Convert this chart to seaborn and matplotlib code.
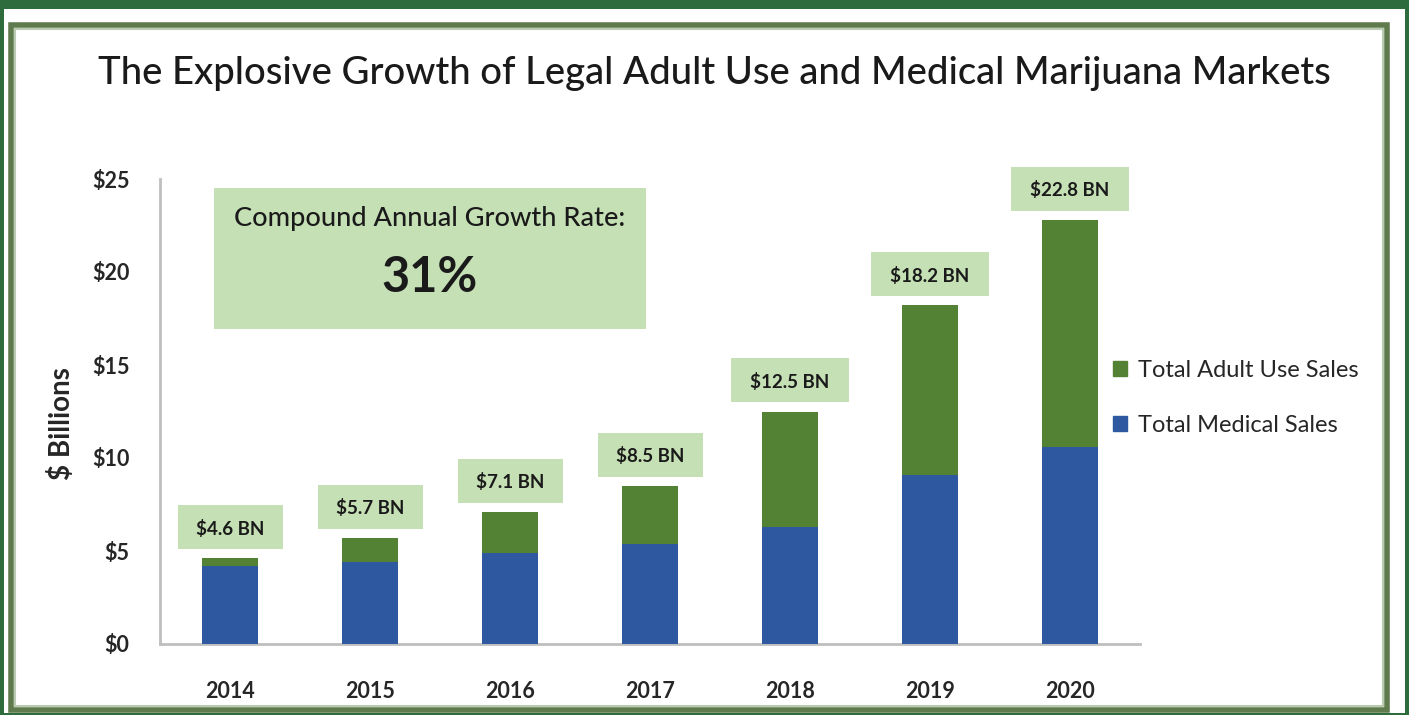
import pandas as pd
import numpy as np
import seaborn as sns
import matplotlib.pyplot as plt
from matplotlib.patches import Rectangle, Patch
from matplotlib.ticker import FixedLocator

# chart data
years = ['2014', '2015', '2016', '2017', '2018', '2019', '2020']
medical_sales = [4.2, 4.4, 4.9, 5.4, 6.3, 9.1, 10.6]
adult_use_sales = [0.4, 1.3, 2.2, 3.1, 6.2, 9.1, 12.2]
total_labels = ['$4.6 BN', '$5.7 BN', '$7.1 BN', '$8.5 BN', '$12.5 BN', '$18.2 BN', '$22.8 BN']
y_ticks = [0, 5, 10, 15, 20, 25]
y_tick_labels = ['$0', '$5', '$10', '$15', '$20', '$25']
cagr_text = 'Compound Annual Growth Rate:'
cagr_value = '31%'

df = pd.DataFrame({'year': years, 'medical': medical_sales, 'adult': adult_use_sales})
df['total'] = df['medical'] + df['adult']

#colours
green = '#548235'
blue = '#2e58a0'
box_green = '#c5e0b4'
dark_frame = '#2e6b3d'
panel_edge = '#5f7a4c'
axis_grey = '#bfbfbf'

sns.set_theme(style='white')
plt.rcParams['font.family'] = ['Lato', 'DejaVu Sans']

W, H = 1409, 715
fig = plt.figure(figsize=(W / 100, H / 100), dpi=100)
fig.patch.set_facecolor(dark_frame)

# white card and the olive panel frame (behind the axes)
fig.add_artist(Rectangle((4 / W, 2 / H), 1401 / W, 704 / H, transform=fig.transFigure,
                         facecolor='white', edgecolor='none', zorder=-3))
fig.add_artist(Rectangle((11 / W, 5 / H), 1376 / W, 685 / H, transform=fig.transFigure,
                         facecolor='white', edgecolor=panel_edge, linewidth=4, zorder=-2))
fig.add_artist(Rectangle((15 / W, 9 / H), 1368 / W, 677 / H, transform=fig.transFigure,
                         facecolor='none', edgecolor='#b9cbb0', linewidth=1.5, zorder=-1))

fig.text(0.507, 0.897, 'The Explosive Growth of Legal Adult Use and Medical Marijuana Markets',
         ha='center', va='center', fontsize=27.5, fontweight='medium', color='#1a1a1a')

ax = fig.add_axes([160 / W, 71 / H, 980 / W, 465 / H])
ax.set_facecolor('none')
ax.set_zorder(2)

# stacked bars: total first (green), medical on top of it (blue)
sns.barplot(data=df, x='year', y='total', color=green, width=0.4, saturation=1,
            linewidth=0, ax=ax, zorder=2)
sns.barplot(data=df, x='year', y='medical', color=blue, width=0.4, saturation=1,
            linewidth=0, ax=ax, zorder=3)

ax.set_xlim(-0.5, len(years) - 0.5)
ax.set_ylim(0, 25)
ax.set_xlabel('')
ax.set_ylabel('$ Billions', fontsize=20, fontweight='bold')
ax.yaxis.set_label_coords(-0.087, 0.473)

ax.set_yticks(y_ticks)
ax.set_yticklabels(y_tick_labels)
ax.tick_params(axis='y', length=5, width=1.5, color=axis_grey, pad=17, labelsize=15.5)
ax.tick_params(axis='x', length=0, pad=27, labelsize=15.5)
ax.xaxis.set_minor_locator(FixedLocator(np.arange(-0.5, len(years), 1.0)))
ax.tick_params(axis='x', which='minor', length=8, width=1.5, color=axis_grey, direction='out')
for lbl in ax.get_xticklabels() + ax.get_yticklabels():
    lbl.set_fontweight('bold')
    lbl.set_color('#262626')

for side in ['top', 'right']:
    ax.spines[side].set_visible(False)
for side in ['left', 'bottom']:
    ax.spines[side].set_color(axis_grey)
    ax.spines[side].set_linewidth(2)

# total labels in green boxes
for i, (tot, lab) in enumerate(zip(df['total'], total_labels)):
    bw = 0.09 * len(lab) + 0.12
    ax.add_patch(Rectangle((i - bw / 2, tot + 0.5), bw, 2.35, facecolor=box_green,
                           edgecolor='none', clip_on=False, zorder=4))
    ax.text(i, tot + 1.6, lab, ha='center', va='center', fontsize=13.5,
            fontweight='bold', color='#1a1a1a', zorder=5, clip_on=False)

# CAGR callout
ax.add_patch(Rectangle((0.055, 0.677), 0.441, 0.304, transform=ax.transAxes,
                       facecolor=box_green, edgecolor='none', zorder=4))
ax.text(0.2755, 0.914, cagr_text, transform=ax.transAxes, ha='center', va='center',
        fontsize=19.5, fontweight='medium', color='#1a1a1a', zorder=5)
ax.text(0.2755, 0.789, cagr_value, transform=ax.transAxes, ha='center', va='center',
        fontsize=35, fontweight='bold', color='#1a1a1a', zorder=5)

handles = [Patch(color=green), Patch(color=blue)]
fig.legend(handles, ['Total Adult Use Sales', 'Total Medical Sales'], loc='center left',
           bbox_to_anchor=(1092 / W, (H - 398) / H), frameon=False, fontsize=17,
           handlelength=0.6, handleheight=0.6, handletextpad=0.45, labelspacing=1.45,
           labelcolor='#262626')

fig.savefig('out.png', dpi=100, facecolor=fig.get_facecolor())
